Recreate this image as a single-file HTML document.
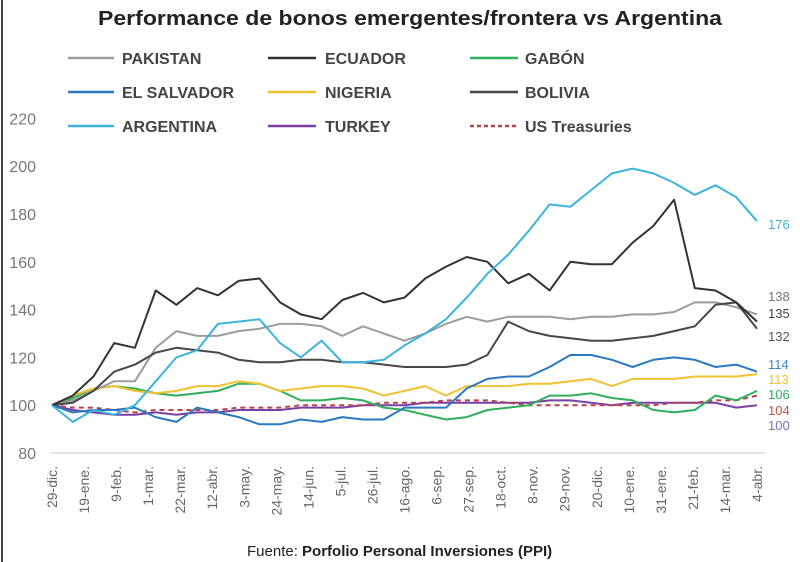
<!DOCTYPE html>
<html><head><meta charset="utf-8"><style>
html,body{margin:0;padding:0;background:#fff;}
svg{display:block;font-family:"Liberation Sans",sans-serif;}
</style></head><body>
<svg id="chart" width="800" height="562" viewBox="0 0 800 562">
<rect x="0" y="0" width="800" height="562" fill="#fff"/>
<line x1="2" y1="0" x2="2" y2="562" stroke="#444" stroke-width="2"/>
<text x="410" y="25" text-anchor="middle" font-size="20" font-weight="bold" fill="#222" textLength="624" lengthAdjust="spacingAndGlyphs">Performance de bonos emergentes/frontera vs Argentina</text>
<g id="grid"></g>
<g id="yaxis"></g>
<g id="xaxis"></g>
<g id="series"></g>
<g id="legend"></g>
<g id="endlabels"></g>
<text x="247" y="556" font-size="15" fill="#222">Fuente: <tspan font-weight="bold">Porfolio Personal Inversiones (PPI)</tspan></text>
</svg>
<script>
const xLabels=["29-dic.","19-ene.","9-feb.","1-mar.","22-mar.","12-abr.","3-may.","24-may.","14-jun.","5-jul.","26-jul.","16-ago.","6-sep.","27-sep.","18-oct.","8-nov.","29-nov.","20-dic.","10-ene.","31-ene.","21-feb.","14-mar.","4-abr."];
const yTicks=[80,100,120,140,160,180,200,220];
const seriesNames=["PAKISTAN","ECUADOR","GABÓN","EL SALVADOR","NIGERIA","BOLIVIA","ARGENTINA","TURKEY","US Treasuries"];
const pakistan=[100,102,106,110,110,124,131,129,129,131,132,134,134,133,129,133,130,127,130,134,137,135,137,137,137,136,137,137,138,138,139,143,143,141,138];
const ecuador=[100,104,112,126,124,148,142,149,146,152,153,143,138,136,144,147,143,145,153,158,162,160,151,155,148,160,159,159,168,175,186,149,148,143,135];
const gabon=[100,103,107,108,107,105,104,105,106,109,109,106,102,102,103,102,99,98,96,94,95,98,99,100,104,104,105,103,102,98,97,98,104,102,106];
const elSalvador=[100,97,98,98,99,95,93,99,97,95,92,92,94,93,95,94,94,99,99,99,107,111,112,112,116,121,121,119,116,119,120,119,116,117,114];
const nigeria=[100,104,107,108,106,105,106,108,108,110,109,106,107,108,108,107,104,106,108,104,108,108,108,109,109,110,111,108,111,111,111,112,112,112,113];
const bolivia=[100,101,106,114,117,122,124,123,122,119,118,118,119,119,118,118,117,116,116,116,117,121,135,131,129,128,127,127,128,129,131,133,142,143,132];
const argentina=[100,93,98,96,100,110,120,123,134,135,136,126,120,127,118,118,119,125,130,136,145,155,163,173,184,183,190,197,199,197,193,188,192,187,177];
const turkey=[100,98,97,96,96,97,96,97,97,98,98,98,99,99,99,100,100,100,101,101,101,101,101,101,102,102,101,100,101,101,101,101,101,99,100];
const treasuries=[100,99,99,98,97,98,98,98,98,99,99,99,100,100,100,100,101,101,101,102,102,102,101,100,100,100,100,100,100,100,101,101,102,102,104];
const endValues=[176,138,135,132,114,113,106,104,100];

const NS="http://www.w3.org/2000/svg";
const X0=52,X1=757,Y80=453,PX20=47.8;
const yS=v=>Y80-(v-80)/20*PX20;
const xS=i=>X0+i*(X1-X0)/(pakistan.length-1);
const xL=i=>X0+i*(X1-X0)/(xLabels.length-1);
function mk(tag,attrs,parent){const e=document.createElementNS(NS,tag);for(const k in attrs)e.setAttribute(k,attrs[k]);parent.appendChild(e);return e;}

const grid=document.getElementById('grid');
const base=mk('line',{x1:50,x2:765,y1:yS(80),y2:yS(80),stroke:'#ddd','stroke-width':1.5},grid);



const ya=document.getElementById('yaxis');
yTicks.forEach(v=>{const t=mk('text',{x:36,y:yS(v)+6,'text-anchor':'end','font-size':16,fill:'#777'},ya);t.textContent=v;

});

const xa=document.getElementById('xaxis');
xLabels.forEach((l,i)=>{const x=xL(i)+5;const t=mk('text',{x:x,y:466,transform:`rotate(-90 ${x} 466)`,'text-anchor':'end','font-size':14,fill:'#666'},xa);t.textContent=l;

});

const colors=["#9c9c9c","#333333","#2fae5c","#2b78c0","#f0c233","#474747","#3cb3df","#7a3fa5","#b9434c"];
const data=[pakistan,ecuador,gabon,elSalvador,nigeria,bolivia,argentina,turkey,treasuries];
const keys=["pakistan","ecuador","gabon","el-salvador","nigeria","bolivia","argentina","turkey","us-treasuries"];
const sg=document.getElementById('series');
[7,8,2,4,3,0,5,1,6].forEach(k=>{
  const d=data[k].map((v,i)=>(i?'L':'M')+xS(i).toFixed(1)+' '+yS(v).toFixed(1)).join(' ');
  const p=mk('path',{d:d,fill:'none',stroke:colors[k],'stroke-width':2,'stroke-linejoin':'round'},sg);
  if(k===8)p.setAttribute('stroke-dasharray','5 4');
  
  
});

const lg=document.getElementById('legend');
const colX=[[68,114,122],[268,316,325],[470,518,525]];
const rowY=[58,92,126];
seriesNames.forEach((n,i)=>{const c=colX[i%3],y=rowY[Math.floor(i/3)];
  const g=mk('g',{},lg);
  
  
  const ln=mk('line',{x1:c[0],x2:c[1],y1:y,y2:y,stroke:colors[i],'stroke-width':2.5},g);
  if(i===8)ln.setAttribute('stroke-dasharray','4 3');
  const t=mk('text',{x:c[2],y:y+6,'font-size':16,fill:'#444','font-weight':'bold'},g);t.textContent=n;
});

const el=document.getElementById('endlabels');
const endColors=["#3cb3df","#777","#444","#555","#3c86c8","#f0c233","#2fae5c","#c0504d","#7a6fc0"];
const endY=[229,301,318,341,369,384,399,415,430];
endValues.forEach((v,i)=>{const t=mk('text',{x:768,y:endY[i],'font-size':13,fill:endColors[i]},el);t.textContent=v;

});
</script>
</body></html>
